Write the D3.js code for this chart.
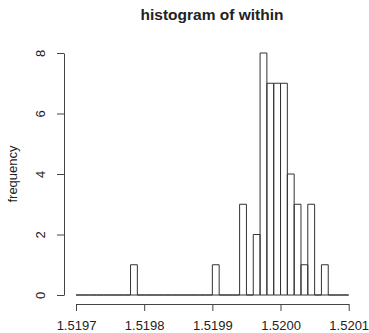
<!DOCTYPE html>
<html>
<head>
<meta charset="utf-8">
<script src="https://cdn.jsdelivr.net/npm/d3@7"></script>
<style>
body { margin: 0; background: #fff; }
text { font-family: "Liberation Sans", Arial, sans-serif; fill: #222; }
</style>
</head>
<body>
<div id="chart"></div>
<script>
var w = 369,
    h = 333;

// bins of width 0.00001 starting at 1.5197
var binStart = 1.5197;
var binWidth = 0.00001;
var counts = [0,0,0,0,0,0,0,0,1,0,
              0,0,0,0,0,0,0,0,0,0,
              1,0,0,0,3,0,2,8,7,7,
              7,4,3,1,3,0,1,0,0,0];
var xTicks = [1.5197, 1.5198, 1.5199, 1.5200, 1.5201];
var yTicks = [0, 2, 4, 6, 8];

var bins = counts.map(function(c, i){
  return {x0: binStart + i * binWidth, x1: binStart + (i + 1) * binWidth, n: c};
});

var x = d3.scaleLinear().domain([1.5197, 1.5201]).range([76, 348.7]);
var y = d3.scaleLinear().domain([0, 8]).range([295, 53]);

var svg = d3.select("#chart").append("svg")
  .attr("width", w)
  .attr("height", h);

// bars (zero-count bins show up as flat lines)
svg.append("g")
  .selectAll("path")
  .data(bins)
  .enter()
  .append("path")
  .attr("d", function(d){
    return "M" + x(d.x0) + "," + y(0) + "V" + y(d.n) + "H" + x(d.x1) + "V" + y(0) + "Z";
  })
  .attr("fill", "none")
  .attr("stroke", "#333")
  .attr("stroke-width", 1);

// x axis
var xAxis = svg.append("g")
  .attr("transform", "translate(0,304)")
  .call(d3.axisBottom(x).tickValues(xTicks).tickSize(7).tickSizeOuter(0)
    .tickFormat(d3.format(".4f")));
xAxis.select(".domain").attr("stroke", "#444");
xAxis.selectAll(".tick line").attr("stroke", "#444");
xAxis.selectAll("text")
  .attr("y", 17)
  .attr("dy", "0.71em")
  .attr("font-size", "13px")
  .attr("fill", "#222");

// y axis
var yAxis = svg.append("g")
  .attr("transform", "translate(64,0)")
  .call(d3.axisLeft(y).tickValues(yTicks).tickSize(7).tickSizeOuter(0));
yAxis.select(".domain").attr("stroke", "#444");
yAxis.selectAll(".tick line").attr("stroke", "#444");
yAxis.selectAll("text")
  .attr("x", null)
  .attr("dy", null)
  .attr("text-anchor", "middle")
  .attr("transform", "translate(-19,0) rotate(-90)")
  .attr("font-size", "13px")
  .attr("fill", "#222");

// title
svg.append("text")
  .attr("x", 212)
  .attr("y", 20)
  .attr("text-anchor", "middle")
  .attr("font-size", "15.5px")
  .attr("font-weight", "bold")
  .text("histogram of within");

// y label
svg.append("text")
  .attr("transform", "translate(16.5,174) rotate(-90)")
  .attr("text-anchor", "middle")
  .attr("font-size", "13px")
  .text("frequency");
</script>
</body>
</html>
